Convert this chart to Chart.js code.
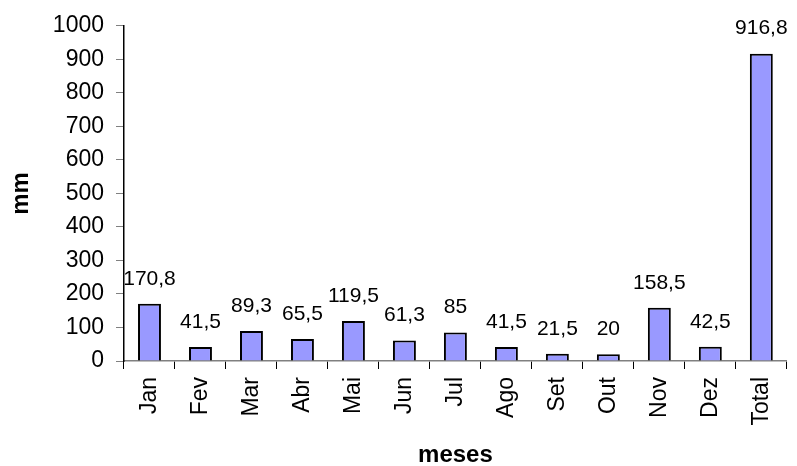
<!DOCTYPE html>
<html>
<head>
<meta charset="utf-8">
<script src="https://cdn.jsdelivr.net/npm/chart.js@4/dist/chart.umd.min.js"></script>
<style>
  html, body { margin: 0; padding: 0; background: #fff; }
</style>
</head>
<body>
<canvas id="chuva" width="797" height="466"></canvas>
<script>
const meses = ['Jan', 'Fev', 'Mar', 'Abr', 'Mai', 'Jun', 'Jul', 'Ago', 'Set', 'Out', 'Nov', 'Dez', 'Total'];
const precipitacao = [170.8, 41.5, 89.3, 65.5, 119.5, 61.3, 85, 41.5, 21.5, 20, 158.5, 42.5, 916.8];
const yMin = 0;
const yMax = 1000;
const yStep = 100;

const FONT = 'Liberation Sans, Arial, Helvetica, sans-serif';

// valor em cima de cada barra, com vírgula decimal
const rotulosValor = {
  id: 'rotulosValor',
  afterDatasetsDraw(chart) {
    const ctx = chart.ctx;
    const meta = chart.getDatasetMeta(0);
    ctx.save();
    ctx.font = '21px ' + FONT;
    ctx.fillStyle = '#000';
    ctx.textAlign = 'center';
    ctx.textBaseline = 'middle';
    meta.data.forEach((bar, i) => {
      const txt = String(precipitacao[i]).replace('.', ',');
      ctx.fillText(txt, bar.x, bar.y - 25);
    });
    ctx.restore();
  }
};

const ctx = document.getElementById('chuva').getContext('2d');
new Chart(ctx, {
  type: 'bar',
  data: {
    labels: meses,
    datasets: [{
      label: 'mm',
      data: precipitacao,
      backgroundColor: '#9999FF',
      borderColor: '#000',
      borderWidth: 2,
      barPercentage: 0.9,
      categoryPercentage: 0.5,
    }],
  },
  options: {
    responsive: false,
    animation: false,
    layout: { padding: { top: 24, right: 2, left: 0, bottom: 0 } },
    plugins: {
      legend: { display: false },
      tooltip: { enabled: false },
    },
    scales: {
      x: {
        grid: { drawOnChartArea: false, tickLength: 8, tickColor: '#000', offset: true },
        border: { color: '#808080', width: 1.5 },
        ticks: {
          color: '#000',
          font: { family: FONT, size: 23 },
          minRotation: 90,
          maxRotation: 90,
          padding: 8,
          autoSkip: false,
        },
        title: {
          display: true,
          text: 'meses',
          color: '#000',
          font: { family: FONT, size: 24, weight: 'bold' },
          padding: { top: 0, bottom: -4 },
        },
        afterFit(scale) { scale.height = 105; },
      },
      y: {
        min: yMin,
        max: yMax,
        grid: { drawOnChartArea: false, tickLength: 8, tickColor: '#808080' },
        border: { color: '#000', width: 1.5 },
        ticks: {
          stepSize: yStep,
          color: '#000',
          font: { family: FONT, size: 23 },
          padding: 12,
          callback: (v) => String(v),
        },
        title: {
          display: true,
          text: 'mm',
          color: '#000',
          font: { family: FONT, size: 24, weight: 'bold' },
          padding: { top: 7, bottom: 0 },
        },
        afterFit(scale) { scale.width = 124; },
      },
    },
  },
  plugins: [rotulosValor],
});
</script>
</body>
</html>
